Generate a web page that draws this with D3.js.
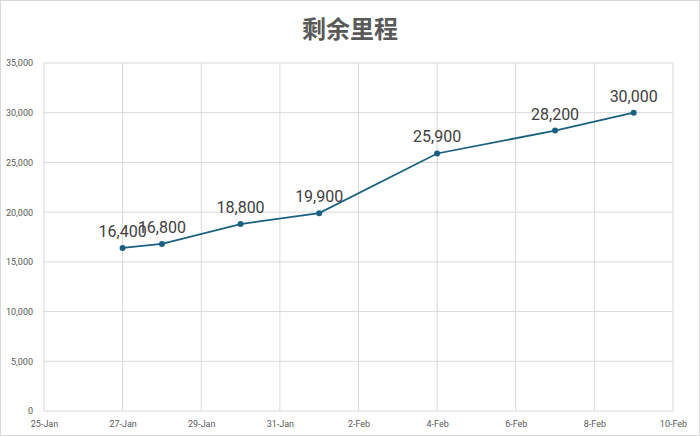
<!DOCTYPE html>
<html>
<head>
<meta charset="utf-8">
<script src="https://cdn.jsdelivr.net/npm/d3@7"></script>
<style>
  body { margin: 0; background: #fff; }
  #chart { width: 700px; height: 436px; }
</style>
</head>
<body>
<div id="chart"></div>
<script>
// Data
const dates = ["2024-01-27", "2024-01-28", "2024-01-30", "2024-02-01", "2024-02-04", "2024-02-07", "2024-02-09"];
const remaining = [16400, 16800, 18800, 19900, 25900, 28200, 30000];
const yTicks = [0, 5000, 10000, 15000, 20000, 25000, 30000, 35000];
const title = "剩余里程";

const W = 700, H = 436;
const margin = { top: 63, right: 27, bottom: 25, left: 44 };

const parse = d3.timeParse("%Y-%m-%d");
const data = dates.map((d, i) => ({ date: parse(d), value: remaining[i] }));

const svg = d3.select("#chart").append("svg")
  .attr("width", W)
  .attr("height", H);

// outer chart border
svg.append("rect")
  .attr("x", 0.5).attr("y", 0.5)
  .attr("width", W - 1).attr("height", H - 1)
  .attr("fill", "#fff")
  .attr("stroke", "#d9d9d9");

const x = d3.scaleTime()
  .domain([parse("2024-01-25"), parse("2024-02-10")])
  .range([margin.left, W - margin.right]);

const y = d3.scaleLinear()
  .domain([0, 35000])
  .range([H - margin.bottom, margin.top]);

const xTicks = d3.timeDay.range(parse("2024-01-25"), parse("2024-02-11"), 2);
const fmtDate = d3.timeFormat("%-d-%b");

// horizontal gridlines
svg.append("g")
  .selectAll("line")
  .data(yTicks)
  .join("line")
  .attr("x1", margin.left).attr("x2", W - margin.right)
  .attr("y1", d => y(d)).attr("y2", d => y(d))
  .attr("stroke", "#d9d9d9");

// vertical gridlines
svg.append("g")
  .selectAll("line")
  .data(xTicks)
  .join("line")
  .attr("x1", d => x(d)).attr("x2", d => x(d))
  .attr("y1", margin.top).attr("y2", H - margin.bottom)
  .attr("stroke", "#d9d9d9");

// y axis labels
const yAxis = svg.append("g")
  .attr("transform", `translate(${margin.left - 8},0)`)
  .call(d3.axisLeft(y).tickValues(yTicks).tickFormat(d3.format(",")).tickSize(0));
yAxis.select(".domain").remove();
yAxis.selectAll("text")
  .attr("fill", "#595959")
  .attr("font-family", "'Liberation Sans Narrow', 'Roboto', sans-serif")
  .attr("font-size", 9);

// x axis labels
const xAxis = svg.append("g")
  .attr("transform", `translate(0,${H - margin.bottom + 7})`)
  .call(d3.axisBottom(x).tickValues(xTicks).tickFormat(fmtDate).tickSize(0));
xAxis.select(".domain").remove();
xAxis.selectAll("text")
  .attr("fill", "#595959")
  .attr("font-family", "'Liberation Sans Narrow', 'Roboto', sans-serif")
  .attr("font-size", 9);

// title
svg.append("text")
  .attr("x", W / 2)
  .attr("y", 38)
  .attr("text-anchor", "middle")
  .attr("fill", "#595959")
  .attr("font-family", "'Noto Sans CJK SC', sans-serif")
  .attr("font-weight", "bold")
  .attr("font-size", 24)
  .text(title);

// line
svg.append("path")
  .datum(data)
  .attr("fill", "none")
  .attr("stroke", "#1a6080")
  .attr("stroke-width", 1.75)
  .attr("d", d3.line().x(d => x(d.date)).y(d => y(d.value)));

// markers
svg.append("g")
  .selectAll("circle")
  .data(data)
  .join("circle")
  .attr("cx", d => x(d.date))
  .attr("cy", d => y(d.value))
  .attr("r", 3)
  .attr("fill", "#1a6080");

// data labels
svg.append("g")
  .selectAll("text")
  .data(data)
  .join("text")
  .attr("x", d => x(d.date))
  .attr("y", d => y(d.value) - 11)
  .attr("text-anchor", "middle")
  .attr("fill", "#404040")
  .attr("font-family", "'Roboto', 'Liberation Sans', sans-serif")
  .attr("font-size", 16)
  .text(d => d3.format(",")(d.value));
</script>
</body>
</html>
